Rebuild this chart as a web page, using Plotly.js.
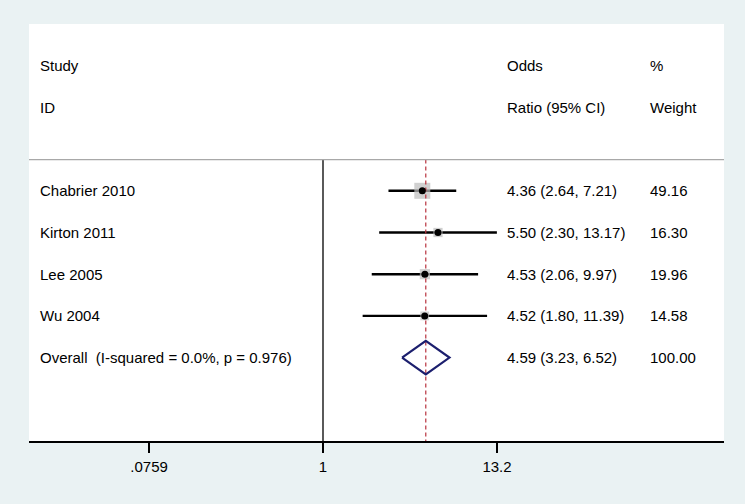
<!DOCTYPE html>
<html><head><meta charset="utf-8">
<script src="https://cdn.plot.ly/plotly-3.0.1.min.js"></script>
<style>html,body{margin:0;padding:0;background:#eaf2f3}</style>
</head><body><div id="chart" style="width:745px;height:504px"></div>
<script>
// ---- data ----
const studies = ['Chabrier 2010', 'Kirton 2011', 'Lee 2005', 'Wu 2004'];
const orVals = [4.36, 5.50, 4.53, 4.52];
const lowerCI = [2.64, 2.30, 2.06, 1.80];
const upperCI = [7.21, 13.17, 9.97, 11.39];
const weights = [49.16, 16.30, 19.96, 14.58];
const orText = ['4.36 (2.64, 7.21)', '5.50 (2.30, 13.17)', '4.53 (2.06, 9.97)', '4.52 (1.80, 11.39)'];
const weightText = ['49.16', '16.30', '19.96', '14.58'];
const overallLabel = 'Overall\u00a0\u00a0(I-squared = 0.0%, p = 0.976)';
const overallOR = [4.59];
const overallCI = [3.23, 6.52];
const overallText = ['4.59 (3.23, 6.52)'];
const overallWeight = ['100.00'];
const tickVals = [0.0759, 1, 13.2];
const tickText = ['.0759', '1', '13.2'];
const headerStudy = ['Study', 'ID'];
const headerOR = ['Odds', 'Ratio (95% CI)'];
const headerWeight = ['%', 'Weight'];

// ---- layout helpers ----
const rows = studies.map((_, i) => i + 1);
const overallRow = studies.length + 1;
const headerRows = [-2, -1];
const sepRow = 0.25;
const yBottom = 7.0, yTop = -3.0;
const font = {family: 'Liberation Sans, Arial, sans-serif', size: 15, color: '#000'};

const ciX = [], ciY = [];
rows.forEach((r, i) => { ciX.push(lowerCI[i], upperCI[i], null); ciY.push(r, r, null); });

const maxW = Math.max(...weights);
const boxSizes = weights.map(w => 16 * Math.sqrt(w / maxW));

const dh = 0.4;
const diamond = {
  x: [overallCI[0], overallOR[0], overallCI[1], overallOR[0], overallCI[0]],
  y: [overallRow, overallRow - dh, overallRow, overallRow + dh, overallRow]
};

const traces = [
  {x: [1, 1], y: [sepRow, yBottom], mode: 'lines', line: {color: '#000', width: 1.3}, hoverinfo: 'skip'},
  {x: ciX, y: ciY, mode: 'lines', line: {color: '#000', width: 2.4}, hoverinfo: 'skip'},
  {x: orVals, y: rows, mode: 'markers', marker: {symbol: 'square', size: boxSizes, color: '#bcbcbc', line: {width: 0}}, hoverinfo: 'skip'},
  {x: [overallOR[0], overallOR[0]], y: [sepRow, yBottom], mode: 'lines', line: {color: '#b8323e', width: 1.2, dash: '4px,3px'}, hoverinfo: 'skip'},
  {x: orVals, y: rows, mode: 'markers', marker: {symbol: 'circle', size: 7, color: '#000'}, hoverinfo: 'skip'},
  {x: diamond.x, y: diamond.y, mode: 'lines', line: {color: '#1c1f6e', width: 2.2}, hoverinfo: 'skip'}
];

const annotations = [];
function addText(txt, xp, y) {
  annotations.push({text: txt, x: xp, xref: 'paper', y: y, yref: 'y', xanchor: 'left', yanchor: 'middle', showarrow: false, font: font, borderpad: 0});
}
const colStudy = 0.0145, colOR = 0.6865, colW = 0.8915;
headerRows.forEach((r, i) => { addText(headerStudy[i], colStudy, r); addText(headerOR[i], colOR, r); addText(headerWeight[i], colW, r); });
rows.forEach((r, i) => { addText(studies[i], colStudy, r); addText(orText[i], colOR, r); addText(weightText[i], colW, r); });
addText(overallLabel, colStudy, overallRow);
addText(overallText[0], colOR, overallRow);
addText(overallWeight[0], colW, overallRow);

const layout = {
  width: 745, height: 504,
  margin: {l: 29, r: 21, t: 24, b: 63, pad: 0},
  paper_bgcolor: '#eaf2f3',
  plot_bgcolor: '#ffffff',
  showlegend: false,
  font: font,
  xaxis: {
    type: 'log', range: [-1.893, 2.582], fixedrange: true,
    tickvals: tickVals, ticktext: tickText,
    ticks: 'outside', ticklen: 10, tickwidth: 1.5, tickcolor: '#000',
    showline: true, linecolor: '#000', linewidth: 2,
    showgrid: false, zeroline: false, tickfont: font, ticklabelstandoff: 1
  },
  yaxis: {
    range: [yBottom, yTop], visible: false, showgrid: false, zeroline: false, fixedrange: true
  },
  shapes: [
    {type: 'line', xref: 'paper', x0: 0, x1: 1, yref: 'y', y0: sepRow, y1: sepRow, line: {color: '#a8a8a8', width: 1.3}}
  ],
  annotations: annotations
};

Plotly.newPlot('chart', traces, layout, {staticPlot: true, displayModeBar: false});
</script>
</body></html>
